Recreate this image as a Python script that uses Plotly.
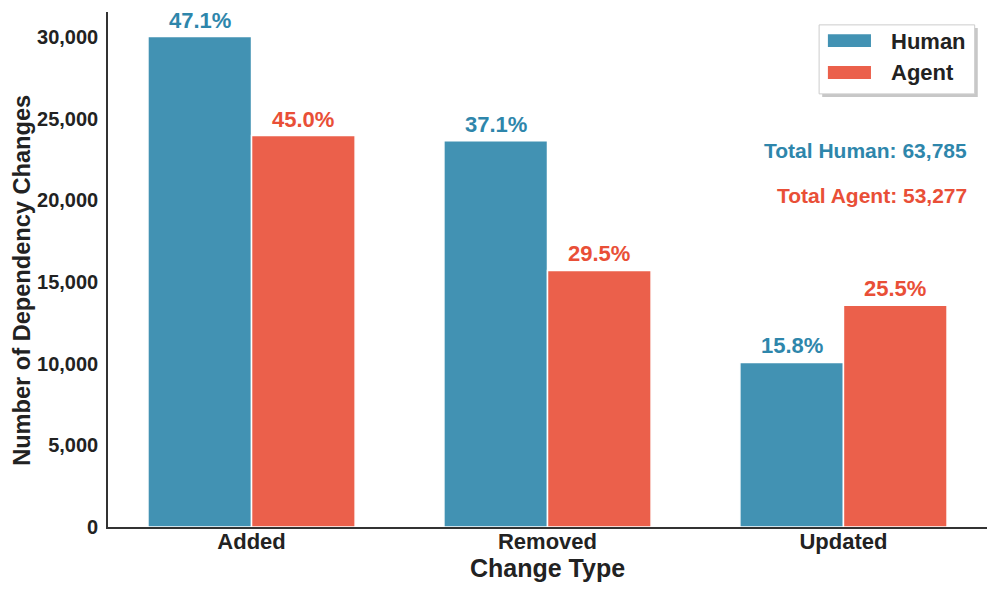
import plotly.graph_objects as go

categories = ["Added", "Removed", "Updated"]
human_values = [30043, 23664, 10078]
agent_values = [23975, 15717, 13586]
human_pct = ["47.1%", "37.1%", "15.8%"]
agent_pct = ["45.0%", "29.5%", "25.5%"]
total_human = 63785
total_agent = 53277
y_ticks = [0, 5000, 10000, 15000, 20000, 25000, 30000]

BLUE_BAR = "rgba(46,134,171,0.9)"
RED_BAR = "rgba(233,79,55,0.9)"
BLUE_TXT = "#2E86AB"
RED_TXT = "#E94F37"
FONT = "Liberation Sans, Arial, sans-serif"
W = 0.35

idx = list(range(len(categories)))
xh = [i - W / 2 for i in idx]
xa = [i + W / 2 for i in idx]

fig = go.Figure()
fig.add_trace(go.Bar(x=xh, y=human_values, width=W, name="Human",
                     marker=dict(color=BLUE_BAR, line=dict(color="white", width=1.5))))
fig.add_trace(go.Bar(x=xa, y=agent_values, width=W, name="Agent",
                     marker=dict(color=RED_BAR, line=dict(color="white", width=1.5))))

ann = []
for x, v, t in zip(xh, human_values, human_pct):
    ann.append(dict(x=x, y=v, text=f"<b>{t}</b>", showarrow=False, yanchor="bottom",
                    yshift=3, borderpad=0, font=dict(size=22, color=BLUE_TXT, family=FONT)))
for x, v, t in zip(xa, agent_values, agent_pct):
    ann.append(dict(x=x, y=v, text=f"<b>{t}</b>", showarrow=False, yanchor="bottom",
                    yshift=3, borderpad=0, font=dict(size=22, color=RED_TXT, family=FONT)))

ann.append(dict(xref="paper", yref="paper", x=0.980, y=0.732, xanchor="right", yanchor="middle",
                text=f"<b>Total Human: {total_human:,}</b>", showarrow=False,
                font=dict(size=21, color=BLUE_TXT, family=FONT)))
ann.append(dict(xref="paper", yref="paper", x=0.980, y=0.643, xanchor="right", yanchor="middle",
                text=f"<b>Total Agent: {total_agent:,}</b>", showarrow=False,
                font=dict(size=21, color=RED_TXT, family=FONT)))

# y-axis title
ann.append(dict(xref="paper", yref="paper", x=-0.0978, y=0.478, xanchor="center", yanchor="middle",
                textangle=-90, text="<b>Number of Dependency Changes</b>", showarrow=False,
                font=dict(size=23.6, color="#222222", family=FONT)))

# custom legend
ann.append(dict(xref="paper", yref="paper", x=0.889, y=0.942, xanchor="left", yanchor="middle",
                text="<b>Human</b>", showarrow=False, font=dict(size=22, color="#222222", family=FONT)))
ann.append(dict(xref="paper", yref="paper", x=0.889, y=0.883, xanchor="left", yanchor="middle",
                text="<b>Agent</b>", showarrow=False, font=dict(size=22, color="#222222", family=FONT)))

shapes = [
    dict(type="rect", xref="paper", yref="paper", x0=0.8125, x1=0.9895, y0=0.835, y1=0.969,
         fillcolor="rgba(0,0,0,0.22)", line=dict(width=0), layer="above"),
    dict(type="rect", xref="paper", yref="paper", x0=0.809, x1=0.986, y0=0.841, y1=0.975,
         fillcolor="white", line=dict(color="#cccccc", width=1), layer="above"),
    dict(type="rect", xref="paper", yref="paper", x0=0.819, x1=0.868, y0=0.932, y1=0.957,
         fillcolor=BLUE_BAR, line=dict(width=0), layer="above"),
    dict(type="rect", xref="paper", yref="paper", x0=0.819, x1=0.868, y0=0.870, y1=0.895,
         fillcolor=RED_BAR, line=dict(width=0), layer="above"),
]

fig.update_layout(
    width=988, height=584,
    margin=dict(l=100, r=9, t=4, b=65),
    paper_bgcolor="white", plot_bgcolor="white",
    showlegend=False,
    font=dict(family=FONT, color="#222222"),
    annotations=ann, shapes=shapes,
    xaxis=dict(range=[-0.485, 2.485], tickvals=idx, ticktext=[f"<b>{c}</b>" for c in categories],
               automargin=False,
               showgrid=False, zeroline=False, showline=True, linecolor="#333333", linewidth=1.6,
               ticks="", tickfont=dict(size=22, color="#222222", family=FONT), ticklabelstandoff=-6,
               title=dict(text="<b>Change Type</b>", font=dict(size=25, color="#222222", family=FONT),
                          standoff=3)),
    yaxis=dict(range=[0, 31545], tickvals=y_ticks, ticktext=[f"<b>{v:,}</b>" for v in y_ticks],
               automargin=False,
               showgrid=False, zeroline=False, showline=True, linecolor="#333333", linewidth=1.6,
               ticks="", tickfont=dict(size=20, color="#222222", family=FONT), ticklabelstandoff=4),
)

fig.write_html("out.html")
